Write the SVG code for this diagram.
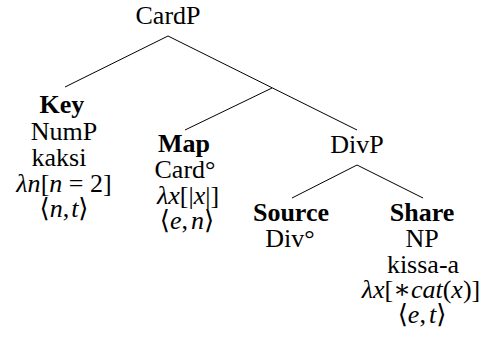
<svg xmlns="http://www.w3.org/2000/svg" width="485" height="360" viewBox="0 0 485 360">
<style>
text{font-family:'Liberation Serif','Times New Roman','DejaVu Serif',serif;font-size:26px;fill:#000;text-anchor:middle}
.b{font-weight:bold}
.i{font-style:italic}
.edge{stroke:#000;stroke-width:1;fill:none}
</style>
<rect width="485" height="360" fill="#fff"/>
<g id="connectors">
<line class="edge" x1="168" y1="36" x2="65" y2="87"/>
<line class="edge" x1="168" y1="36" x2="357" y2="130"/>
<line class="edge" x1="272" y1="88" x2="185" y2="130"/>
<line class="edge" x1="357" y1="165" x2="292" y2="198"/>
<line class="edge" x1="357" y1="165" x2="423" y2="198"/>
</g>
<g id="cardp"><text x="168" y="24">CardP</text></g>
<g id="key">
<text class="b" x="62" y="113">Key</text>
<text x="64" y="140">NumP</text>
<text x="59" y="166">kaksi</text>
<text x="64" y="192"><tspan class="i">λn</tspan>[<tspan class="i">n</tspan> = 2]</text>
<text x="64" y="217">⟨<tspan class="i">n</tspan>,<tspan class="i" dx="2">t</tspan>⟩</text>
</g>
<g id="map">
<text class="b" x="184" y="152">Map</text>
<text x="185" y="178">Card°</text>
<text x="188" y="204"><tspan class="i">λx</tspan>[|<tspan class="i">x</tspan>|]</text>
<text x="187" y="229">⟨<tspan class="i">e</tspan>,<tspan class="i" dx="3">n</tspan>⟩</text>
</g>
<g id="divp"><text x="357" y="153">DivP</text></g>
<g id="source">
<text class="b" x="291" y="221">Source</text>
<text x="290" y="247">Div°</text>
</g>
<g id="share">
<text class="b" x="422" y="221">Share</text>
<text x="422" y="247">NP</text>
<text x="423" y="273">kissa-a</text>
<text x="421" y="298"><tspan class="i">λx</tspan>[∗<tspan class="i">cat</tspan>(<tspan class="i">x</tspan>)]</text>
<text x="422" y="323">⟨<tspan class="i">e</tspan>,<tspan class="i" dx="3">t</tspan>⟩</text>
</g>
</svg>
